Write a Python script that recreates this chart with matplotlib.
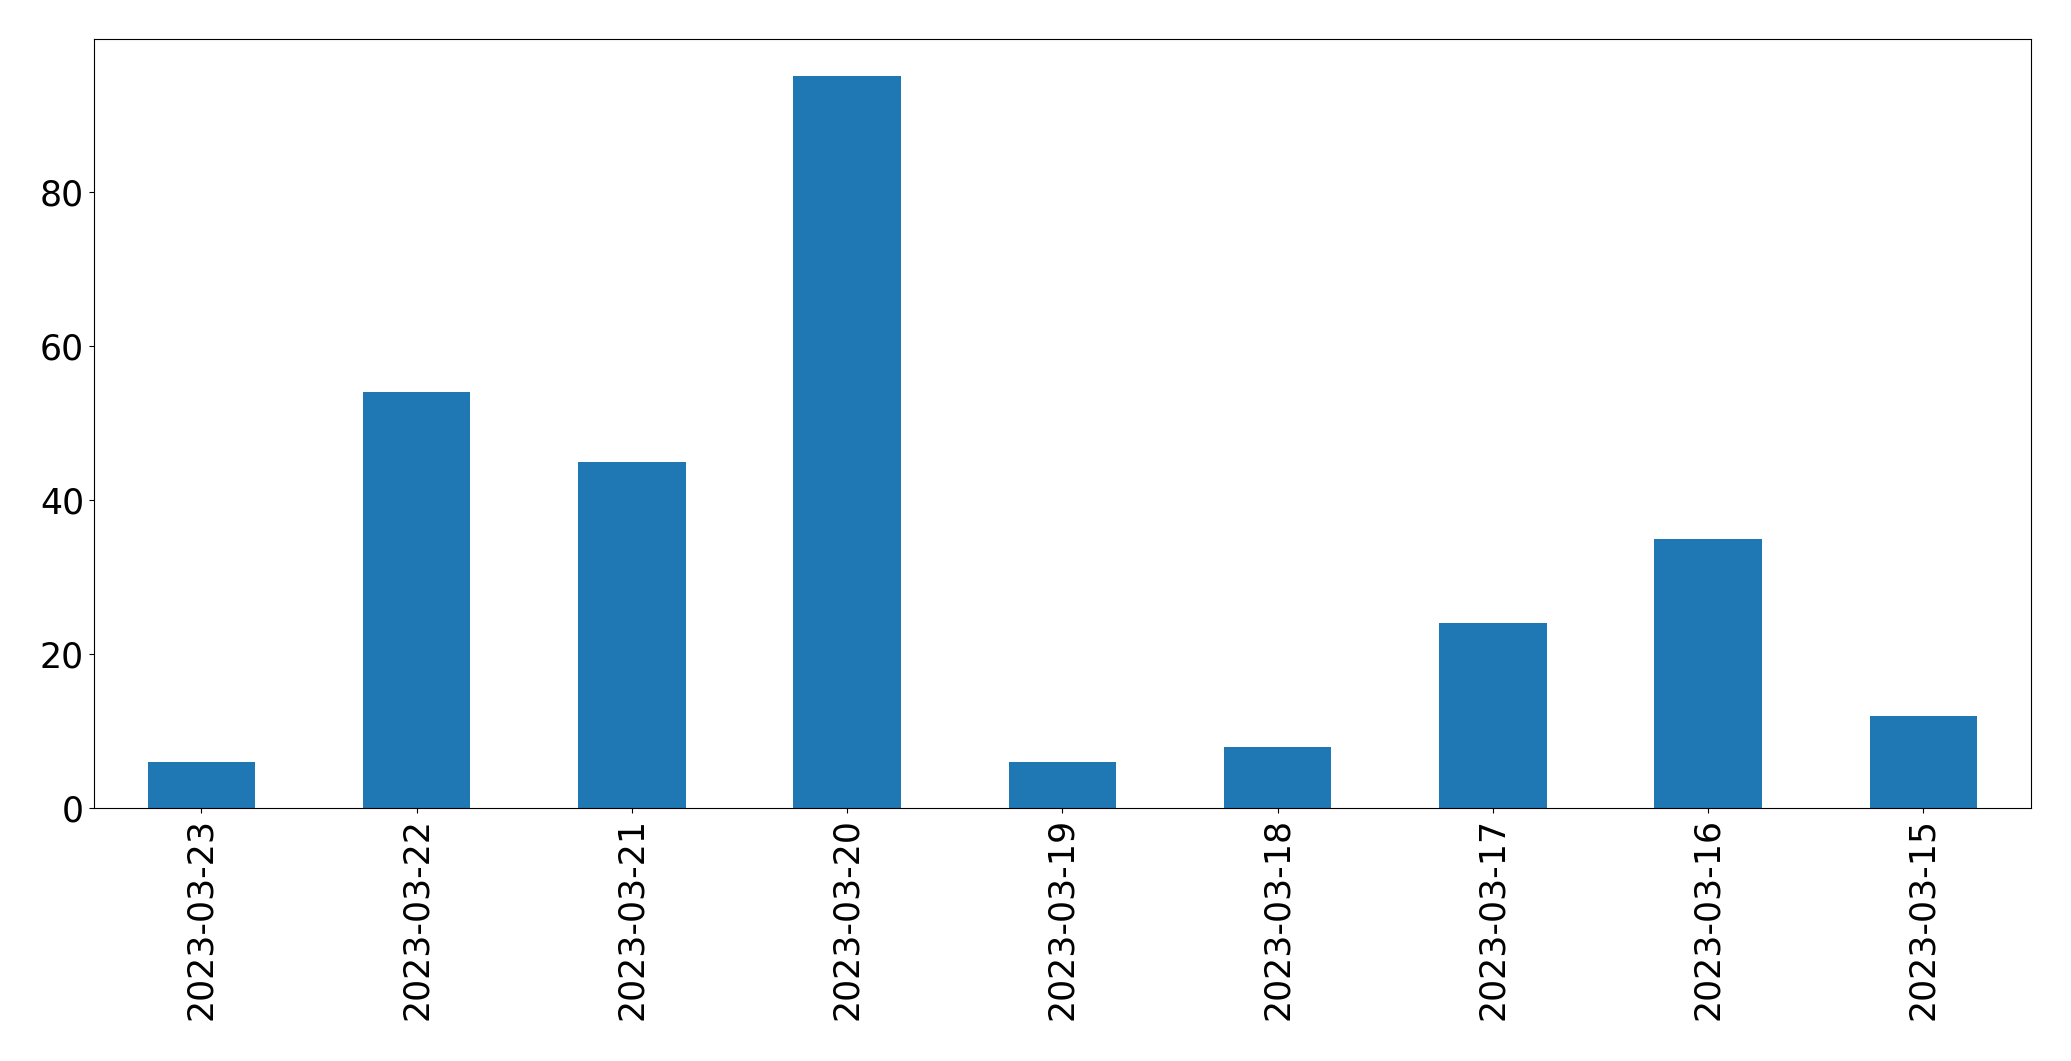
import matplotlib
matplotlib.use('Agg')
import matplotlib.pyplot as plt
import pandas as pd

# daily counts, newest first (as in the source table)
dates=['2023-03-23','2023-03-22','2023-03-21','2023-03-20','2023-03-19',
       '2023-03-18','2023-03-17','2023-03-16','2023-03-15']
counts=[6,54,45,95,6,8,24,35,12]

s=pd.Series(counts,index=dates)

fig=plt.figure(figsize=(20.71,10.61),dpi=100)
ax=fig.add_axes([0.0453,0.2380,0.9354,0.7248])
s.plot.bar(ax=ax,color='#1f77b4')
ax.tick_params(axis='both',labelsize=25)
fig.savefig('out.png',dpi=100)
